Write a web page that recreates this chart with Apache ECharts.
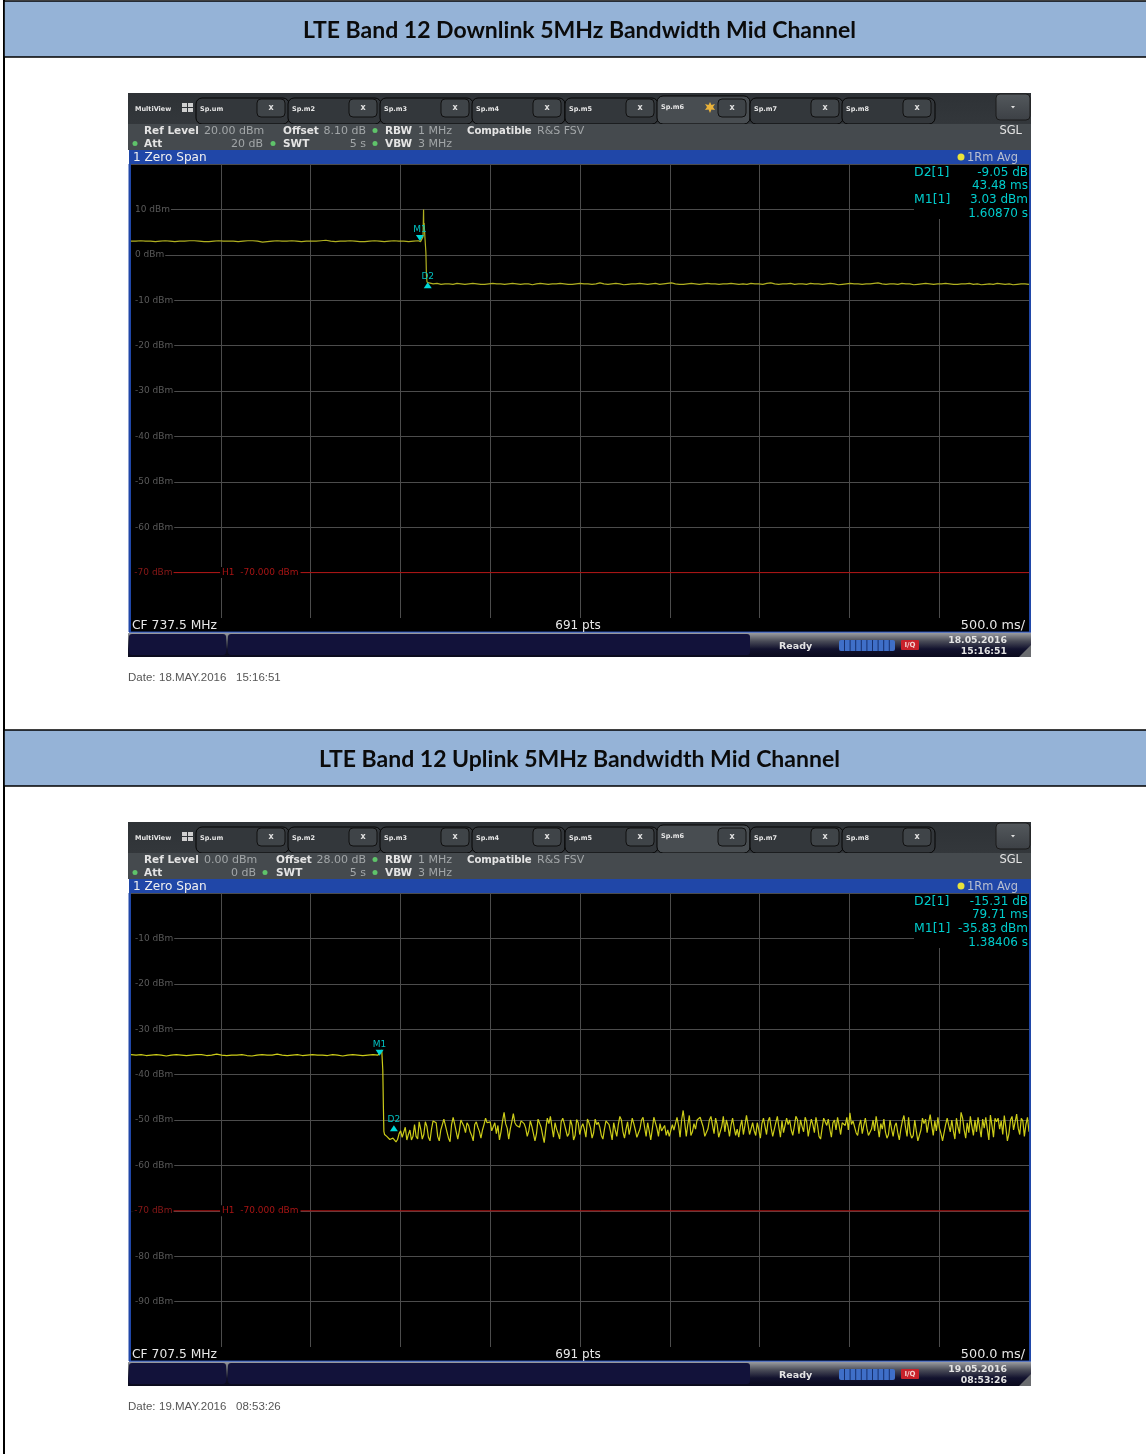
<!DOCTYPE html>
<html>
<head>
<meta charset="utf-8">
<style>html,body{margin:0;padding:0;background:#fff}#c{width:1146px;height:1454px}</style>
<script src="https://cdn.jsdelivr.net/npm/echarts@6/dist/echarts.min.js"></script>
</head>
<body>
<div id="c"></div>
<script>
// ---------- Data ----------
const titles = ['LTE Band 12 Downlink 5MHz Bandwidth Mid Channel', 'LTE Band 12 Uplink 5MHz Bandwidth Mid Channel'];
const tabNames = ['Sp.um','Sp.m2','Sp.m3','Sp.m4','Sp.m5','Sp.m6','Sp.m7','Sp.m8'];
const dbLimit = -70;
const limitLineTimes = [0.23, 5];
const limitLineValues = [-70, -70];
const spanSeconds = 5;

// Downlink trace (dBm)
const downPreValues = [3.0,3.0,3.1,3.0,3.0,2.9,3.0,3.1,3.0,2.9,3.0,3.0,3.1,3.1,3.0,2.9,2.9,3.0,3.1,3.0,3.0,3.0,2.9,3.0,3.1,3.1,3.0,2.8,2.9,3.0,3.1,3.0,3.0,3.1,3.0,2.9,3.0,3.0,3.0,3.1,3.2,3.0,2.9,3.0,3.0,3.1,3.0,2.9,2.9,3.0,3.1,3.0,2.9,3.0,3.1,3.0,3.0,2.9,3.0,3.1];
const downEdgeTimes = [1.612,1.622,1.626,1.629,1.630,1.632,1.636,1.640,1.642,1.645,1.648,1.654];
const downEdgeValues = [2.9,2.8,4.0,10.0,6.5,7.0,4.2,4.0,0.5,-4.5,-6.0,-6.1];
const downPostValues = [-6.2,-6.4,-6.3,-6.5,-6.4,-6.4,-6.5,-6.3,-6.4,-6.5,-6.4,-6.3,-6.4,-6.5,-6.5,-6.4,-6.3,-6.4,-6.4,-6.5,-6.4,-6.3,-6.4,-6.5,-6.4,-6.4,-6.6,-6.4,-6.3,-6.4,-6.5,-6.4,-6.4,-6.3,-6.4,-6.5,-6.5,-6.4,-6.3,-6.4,-6.4,-6.5,-6.4,-6.2,-6.4,-6.5,-6.4,-6.3,-6.4,-6.6,-6.5,-6.4,-6.4,-6.3,-6.4,-6.5,-6.4,-6.3,-6.5,-6.4,-6.3,-6.2,-6.4,-6.5,-6.5,-6.4,-6.3,-6.4,-6.5,-6.4,-6.3,-6.4,-6.4,-6.5,-6.4,-6.4,-6.3,-6.4,-6.5,-6.4,-6.5,-6.3,-6.4,-6.4,-6.5,-6.3,-6.2,-6.4,-6.5,-6.4,-6.4,-6.3,-6.5,-6.4,-6.4,-6.5,-6.3,-6.4,-6.4,-6.5,-6.4,-6.3,-6.4,-6.6,-6.5,-6.4,-6.3,-6.4,-6.4,-6.5,-6.4,-6.4,-6.3,-6.2,-6.4,-6.5,-6.4,-6.4,-6.5,-6.3,-6.4,-6.4,-6.6,-6.5,-6.4,-6.3,-6.4,-6.5,-6.4,-6.4,-6.3,-6.4,-6.5,-6.5,-6.4,-6.4,-6.3,-6.5,-6.4,-6.6,-6.5,-6.4,-6.5,-6.3,-6.4,-6.5,-6.4,-6.6,-6.5,-6.4,-6.4,-6.5];
const downMarkers = {m1:[1.6087,3.03], d2:[1.65218,-6.02]};

// Uplink trace (dBm)
const upPreValues = [-35.6,-35.7,-35.6,-35.8,-35.7,-35.6,-35.7,-35.9,-35.7,-35.6,-35.7,-35.8,-35.7,-35.6,-35.6,-35.8,-35.7,-35.5,-35.7,-35.8,-35.7,-35.7,-35.6,-35.8,-35.9,-35.7,-35.6,-35.7,-35.7,-35.5,-35.7,-35.8,-35.7,-35.6,-35.8,-35.7,-35.6,-35.7,-35.7,-35.8,-35.6,-35.7,-35.9,-35.7,-35.6,-35.7,-35.8,-35.7,-35.6,-35.7];
const upEdgeTimes = [1.384,1.396,1.402,1.405,1.408,1.412,1.418];
const upEdgeValues = [-35.8,-34.6,-39.0,-46.5,-52.5,-53.2,-52.9];
const upNoiseValues = [
-53.6,-54.0,-54.3,-54.6,-54.0,-54.4,-54.8,-54.3,-53.0,-52.4,-53.8,-54.2,-51.6,-54.4,-53.2,-52.2,-54.4,-53.6,-51.0,-53.6,
-54.2,-50.4,-52.0,-54.2,-53.2,-50.4,-51.4,-53.8,-54.6,-52.0,-50.2,-49.9,-50.6,-53.6,-54.6,-52.2,-51.0,-49.8,-50.2,-52.6,
-54.0,-54.8,-51.0,-49.4,-50.9,-52.6,-54.2,-52.4,-50.0,-49.9,-51.4,-52.8,-50.6,-51.2,-52.6,-53.4,-54.6,-51.0,-50.4,-51.6,
-52.5,-54.0,-52.2,-51.0,-49.6,-50.6,-51.0,-50.4,-52.4,-52.8,-50.6,-53.0,-51.2,-54.4,-52.6,-50.2,-48.3,-50.8,-51.8,-54.2,
-52.0,-50.4,-48.6,-50.6,-51.2,-50.9,-51.6,-50.2,-49.8,-50.8,-51.8,-53.6,-52.4,-50.2,-51.4,-53.0,-54.6,-53.0,-49.8,-50.0,
-51.6,-53.4,-55.0,-52.0,-49.6,-50.8,-49.2,-51.6,-53.8,-50.6,-52.0,-53.0,-54.2,-50.4,-49.6,-50.8,-52.2,-53.6,-53.0,-50.0,
-51.2,-54.4,-53.4,-49.9,-50.6,-53.2,-51.6,-50.8,-52.0,-53.8,-49.8,-50.6,-51.8,-54.0,-52.8,-49.8,-51.0,-50.5,-51.6,-53.4,
-54.2,-52.0,-50.2,-49.8,-51.0,-52.6,-54.4,-50.6,-52.2,-53.6,-51.0,-49.2,-50.0,-52.6,-54.0,-52.0,-50.4,-53.2,-51.6,-49.6,
-50.8,-52.2,-53.8,-54.2,-52.0,-50.0,-49.4,-51.6,-53.6,-50.6,-52.4,-54.4,-52.0,-49.4,-49.8,-51.8,-53.6,-50.8,-52.4,-52.8,
-51.2,-53.4,-52.2,-53.6,-53.6,-51.0,-52.2,-50.8,-49.4,-51.2,-53.8,-50.0,-47.9,-50.6,-53.6,-51.0,-49.0,-53.4,-52.6,-50.8,
-52.0,-50.0,-50.4,-49.4,-49.8,-51.6,-53.6,-54.0,-52.0,-50.0,-49.2,-51.2,-53.0,-49.6,-51.0,-53.8,-54.2,-51.4,-49.2,-52.6,
-50.0,-51.4,-53.6,-51.2,-49.6,-51.6,-53.4,-52.0,-53.8,-51.4,-50.0,-53.2,-51.2,-49.0,-51.0,-53.2,-53.6,-50.6,-52.4,-53.4,
-50.6,-52.2,-54.0,-50.8,-49.6,-51.4,-53.2,-50.2,-49.4,-51.8,-53.6,-54.0,-50.6,-49.2,-51.6,-53.8,-50.2,-52.8,-51.2,-49.6,
-51.0,-50.0,-52.2,-53.4,-51.4,-49.2,-49.9,-53.0,-50.0,-51.4,-52.6,-49.4,-50.4,-53.6,-51.6,-49.8,-51.0,-52.8,-49.4,-51.2,
-53.6,-54.2,-51.8,-49.6,-50.4,-51.2,-49.8,-52.0,-53.8,-50.6,-50.0,-52.2,-49.4,-51.2,-53.2,-50.6,-50.4,-51.2,-49.4,-52.2,
-48.4,-51.0,-50.2,-50.6,-52.8,-53.4,-51.2,-50.0,-53.0,-51.2,-49.6,-51.8,-53.4,-53.6,-52.0,-50.0,-52.4,-49.2,-51.4,-53.8,
-50.8,-52.0,-49.8,-52.6,-54.0,-53.2,-50.0,-52.0,-53.6,-51.4,-50.6,-52.8,-54.4,-52.0,-50.2,-49.0,-51.6,-53.6,-49.4,-52.8,
-54.0,-53.4,-50.0,-52.4,-54.6,-55.0,-52.2,-49.6,-50.8,-49.8,-52.8,-50.6,-48.8,-51.2,-53.4,-50.2,-52.4,-49.4,-51.8,-53.0,
-54.6,-54.2,-51.0,-49.6,-51.2,-52.6,-50.0,-52.4,-54.2,-49.6,-51.6,-53.0,-48.3,-49.6,-52.2,-54.0,-50.6,-52.8,-49.2,-51.4,
-53.4,-50.0,-52.6,-49.4,-51.6,-53.8,-49.8,-51.8,-49.4,-52.0,-54.4,-48.9,-51.2,-53.8,-49.6,-50.4,-49.6,-52.0,-50.2,-53.2,
-49.0,-51.6,-54.6,-53.0,-50.0,-49.2,-52.2,-50.4,-48.7,-51.8,-53.2,-49.6,-50.2,-53.6,-51.0,-49.4,-52.6
];
const upMarkers = {m1:[1.38406,-35.83], d2:[1.46377,-51.14]};

// ---------- Panel text ----------
const panels = [
 {y0:0, title:titles[0], titleCx:579.5, ref:'20.00 dBm', offsetX:283, offsetV:'8.10 dB', att:'20 dB', attR:263, dotSwt:273, swtX:283,
  table:['-9.05 dB','43.48 ms','3.03 dBm','1.60870 s'], cf:'CF 737.5 MHz', d1:'18.05.2016', d2:'15:16:51', dateDay:'18.MAY.2016', dateTime:'15:16:51', star:true, yMax:20, yMin:-80},
 {y0:729, title:titles[1], titleCx:579.5, ref:'0.00 dBm', offsetX:276, offsetV:'28.00 dB', att:'0 dB', attR:256, dotSwt:265, swtX:276,
  table:['-15.31 dB','79.71 ms','-35.83 dBm','1.38406 s'], cf:'CF 707.5 MHz', d1:'19.05.2016', d2:'08:53:26', dateDay:'19.MAY.2016', dateTime:'08:53:26', star:false, yMax:0, yMin:-100}
];

// ---------- Helpers ----------
const evenly = (vals, t0, t1) => vals.map((v,i)=>[t0 + i*(t1-t0)/(vals.length-1), v]);
const zip = (ts, vs) => ts.map((t,i)=>[t, vs[i]]);
const downTrace = [...evenly(downPreValues,0,1.6), ...zip(downEdgeTimes,downEdgeValues), ...evenly(downPostValues,1.66,spanSeconds)];
const upTrace = [...evenly(upPreValues,0,1.375), ...zip(upEdgeTimes,upEdgeValues), ...evenly(upNoiseValues,1.424,spanSeconds)];

const G = [];
const Z = 20;
const UI = 'DejaVu Sans';
function R(x,y,w,h,fill,r,stroke,lw){G.push({type:'rect',z:Z,silent:true,shape:{x,y,width:w,height:h,r:r||0},style:{fill,stroke:stroke||null,lineWidth:lw||1}});}
function T(x,y,text,fill,size,weight,align,font){G.push({type:'text',z:Z+1,silent:true,style:{x,y,text,fill,font:(weight||'normal')+' '+size+'px "'+(font||UI)+'"',align:align||'left',verticalAlign:'middle'}});}
function C(x,y,r,fill){G.push({type:'circle',z:Z+1,silent:true,shape:{cx:x,cy:y,r},style:{fill}});}
const V = c => ({type:'linear',x:0,y:0,x2:0,y2:1,colorStops:c.map((col,i)=>({offset:i/(c.length-1),color:col}))});

// page frame
R(3,0,2,1454,'#000');
function panel(p){
  const d = p.y0;
  // header band
  R(4,d+1,1144,56,'#95B3D7',0,'#000',1.6);
  T(p.titleCx,d+30.5,p.title,'#0b0b0b',23,'bold','center','Lato');
  // tab strip
  R(128,d+93,903,31,V(['#2e3236','#33373b']));
  const tabX=[197,289,381,473,566,658,751,843];
  tabNames.forEach((n,i)=>{
    const active=i===5;
    const x=tabX[i], top=d+(active?96:98), h=active?28:26;
    R(x-1,top,93,h,active?'#484d51':'#33373b',6,'#050505',1);
    T(x+3,d+(active?107:109),n,'#e6e6e6',6.5,'bold');
    R(x+60,d+99,28,18,'#3f4448',4,'#101010',1);
    T(x+74,d+108,'x','#e0e0e0',8,'bold','center');
  });
  T(135,d+109,'MultiView','#e8e8e8',6.5,'bold');
  [[182,103],[188,103],[182,108],[188,108]].forEach(q=>R(q[0],d+q[1],5,4,'#d0d0d0'));
  if(p.star){
    G.push({type:'polygon',z:Z+1,silent:true,shape:{points:[[710,102],[711.5,105],[715,104],[713,107],[715,110],[711.5,109.5],[710,113],[708.5,109.5],[705,110],[707,107],[705,104],[708.5,105]].map(q=>[q[0],q[1]+d])},style:{fill:'#e9b23a'}});
  }
  R(996,d+94,34,26,V(['#54595d','#3c4045']),4,'#1a1a1a',1);
  G.push({type:'polygon',z:Z+1,silent:true,shape:{points:[[1011,d+106],[1015,d+106],[1013,d+108.5]]},style:{fill:'#e0e0e0'}});
  // info strip
  R(128,d+124,903,26,'#454a4e');
  const w='#e4e4e4', g='#a2a6a8';
  const y1=d+131, y2=d+144;
  T(144,y1,'Ref Level',w,10.5,'bold');
  T(204,y1,p.ref,g,11);
  T(p.offsetX,y1,'Offset',w,10.5,'bold');
  T(366,y1,p.offsetV,g,11,'normal','right');
  C(375,y1-0.5,2.5,'#5fc36a');
  T(385,y1,'RBW',w,10.5,'bold');
  T(418,y1,'1 MHz',g,11);
  T(467,y1,'Compatible',w,10.1,'bold');
  T(537,y1,'R&S FSV',g,11);
  T(1022,y1,'SGL',w,11.5,'normal','right');
  C(135,y2-0.5,2.5,'#5fc36a');
  T(144,y2,'Att',w,10.5,'bold');
  T(p.attR,y2,p.att,g,11,'normal','right');
  C(p.dotSwt,y2-0.5,2.5,'#5fc36a');
  T(p.swtX,y2,'SWT',w,10.5,'bold');
  T(366,y2,'5 s',g,11,'normal','right');
  C(375,y2-0.5,2.5,'#5fc36a');
  T(385,y2,'VBW',w,10.5,'bold');
  T(418,y2,'3 MHz',g,11);
  // title strip
  R(129,d+150,902,14,'#2047a8');
  T(133,d+157.7,'1 Zero Span','#f0f0f0',12.1);
  C(961,d+157,3.5,'#e8e23a');
  T(967,d+157.7,'1Rm Avg','#b9bfd0',11.4);
  // plot frame
  R(128.5,d+164,2.5,468,'#2047a8');
  R(1029,d+164,2,468,'#2047a8');
  // marker table
  R(914,d+165,115,54,'#000');
  const cy='#00cccc';
  T(914,d+172.5,'D2[1]',cy,12.5);
  T(1028,d+172.5,p.table[0],cy,12,'normal','right');
  T(1028,d+186,p.table[1],cy,12,'normal','right');
  T(914,d+199.5,'M1[1]',cy,12.5);
  T(1028,d+199.5,p.table[2],cy,12,'normal','right');
  T(1028,d+213.5,p.table[3],cy,12,'normal','right');
  // footer of the plot
  R(131,d+618,898,14,'#000');
  T(132,d+625.7,p.cf,'#e8e8e8',12.3);
  T(578,d+625.7,'691 pts','#e8e8e8',12,'normal','center');
  T(1025,d+625.7,'500.0 ms/','#e8e8e8',12.8,'normal','right');
  R(129,d+631.5,902,1.2,'#2047a8');
  // status bar
  R(128,d+633,903,24,V(['#9a9ca0','#4a4c58','#12122e','#0a0a1c']));
  R(129,d+634,97,21,'#12123a',3);
  R(228,d+634,522,21,'#12123a',3);
  T(779,d+646.5,'Ready','#e4e4e4',9.5,'bold');
  R(839,d+640,56,11,'#3f6fc8',2);
  [0,1,2,3,4,5,6,7,8].forEach(i=>R(844+i*5.6,d+640,1,11,'#16306e'));
  R(901,d+640,18,10,'#c8202a',1);
  T(910,d+645,'I/Q','#f4d0d0',7,'bold','center');
  T(1007,d+640.5,p.d1,'#e4e4e4',9.3,'bold','right');
  T(1007,d+651.5,p.d2,'#e4e4e4',9.3,'bold','right');
  G.push({type:'polygon',z:Z,silent:true,shape:{points:[[1031,d+645],[1031,d+657],[1019,d+657]]},style:{fill:'#6a6c70'}});
  // date
  T(128,d+677.5,'Date:','#565656',11.5,'normal','left','Liberation Sans');
  T(159,d+677.5,p.dateDay,'#565656',11.5,'normal','left','Liberation Sans');
  T(236,d+677.5,p.dateTime,'#565656',11.5,'normal','left','Liberation Sans');
}
panels.forEach(panel);

// ---------- Charts ----------
const traces=[downTrace,upTrace], markers=[downMarkers,upMarkers];
const traceColors=['#b0b020','#cccc18'];
const option = {
  animation:false,
  backgroundColor:'#ffffff',
  grid: panels.map(p=>({left:131,width:898,top:p.y0+164,height:454,show:true,backgroundColor:'#000',borderWidth:0,containLabel:false})),
  xAxis: panels.map((p,i)=>({type:'value',gridIndex:i,min:0,max:spanSeconds,interval:0.5,
    axisLine:{show:false},axisTick:{show:false},axisLabel:{show:false},
    splitLine:{show:true,showMinLine:false,showMaxLine:false,lineStyle:{color:'#4c4c4c',width:1}}})),
  yAxis: panels.map((p,i)=>({type:'value',gridIndex:i,min:p.yMin,max:p.yMax,interval:10,
    axisLine:{show:false},axisTick:{show:false},
    axisLabel:{show:true,inside:true,margin:0,showMinLabel:false,showMaxLabel:false,fontFamily:UI,fontSize:9,
      backgroundColor:'#000',padding:[1,1,1,4],
      color:'#5a5a5a',
      formatter:v=>v===dbLimit?'':v+' dBm'},
    splitLine:{show:true,lineStyle:{color:'#4c4c4c',width:1}}})),
  series: panels.flatMap((p,i)=>[{
    type:'line',xAxisIndex:i,yAxisIndex:i,showSymbol:false,symbol:'none',silent:true,z:3,
    lineStyle:{color:'#b01010',width:1},data:zip(limitLineTimes,limitLineValues)
  },{
    type:'line',xAxisIndex:i,yAxisIndex:i,showSymbol:false,symbol:'none',smooth:false,z:4,
    lineStyle:{color:traceColors[i],width:1.2},data:traces[i],silent:true,
    markPoint:{silent:true,animation:false,data:[
      {coord:markers[i].m1,symbol:'triangle',symbolRotate:180,symbolSize:[8,6],symbolOffset:[0,-3],itemStyle:{color:'#00d8d8'},
       label:{show:true,formatter:'M1',position:'top',distance:1,color:'#00c0c0',fontFamily:UI,fontSize:9}},
      {coord:markers[i].d2,symbol:'triangle',symbolSize:[8,6],symbolOffset:[0,3],itemStyle:{color:'#00d8d8'},
       label:{show:true,formatter:'D2',position:'top',distance:1,color:'#00c0c0',fontFamily:UI,fontSize:9}},
      {coord:[0.125,dbLimit],symbol:'circle',symbolSize:1,itemStyle:{color:'rgba(0,0,0,0)'},label:{show:true,formatter:'-70 dBm',position:'inside',color:'#8a1818',backgroundColor:'#000',padding:[1,1],fontFamily:UI,fontSize:9}},
      {coord:[0.72,dbLimit],symbol:'circle',symbolSize:1,itemStyle:{color:'rgba(0,0,0,0)'},label:{show:true,formatter:'H1  -70.000 dBm',position:'inside',color:'#a81414',backgroundColor:'#000',padding:[1,2],fontFamily:UI,fontSize:9}}
    ]}
  }]),
  graphic:{elements:G}
};
const chart = echarts.init(document.getElementById('c'),null,{renderer:'canvas',width:1146,height:1454});
chart.setOption(option);
</script>
</body>
</html>
